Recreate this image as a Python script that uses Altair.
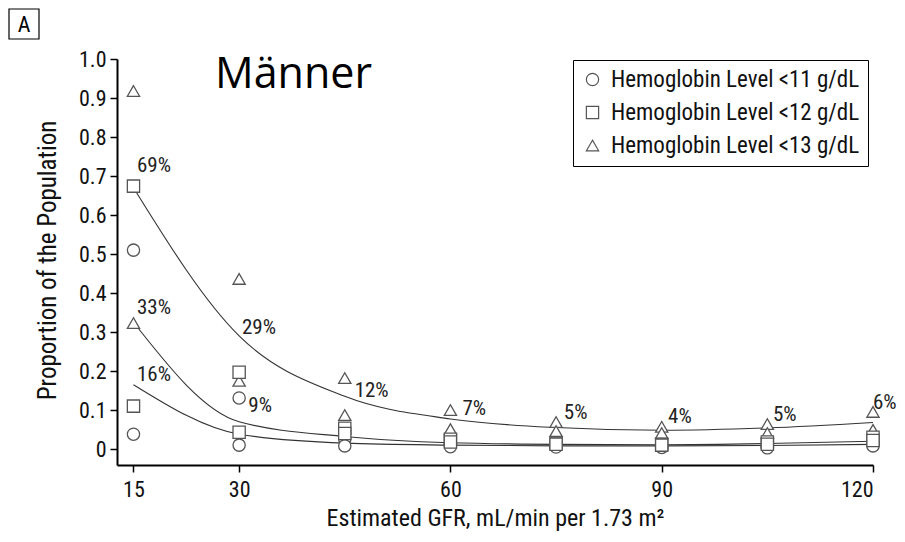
import altair as alt
import pandas as pd

# ---- data ----
gfr = [15, 30, 45, 60, 75, 90, 105, 120]

# two observations per hemoglobin threshold at each GFR level
circ_a = [0.510, 0.131, 0.025, 0.012, 0.008, 0.006, 0.008, 0.012]
circ_b = [0.038, 0.010, 0.008, 0.006, 0.005, 0.004, 0.003, 0.008]
tri_a = [0.918, 0.436, 0.182, 0.100, 0.069, 0.057, 0.064, 0.095]
tri_b = [0.323, 0.175, 0.087, 0.051, 0.046, 0.041, 0.041, 0.049]
sq_a = [0.674, 0.197, 0.053, 0.025, 0.015, 0.012, 0.018, 0.030]
sq_b = [0.110, 0.043, 0.040, 0.018, 0.012, 0.010, 0.012, 0.022]

# fitted curves
curve_top = [0.670, 0.290, 0.135, 0.077, 0.055, 0.048, 0.054, 0.068]
curve_mid = [0.325, 0.070, 0.032, 0.016, 0.012, 0.011, 0.014, 0.020]
curve_bot = [0.165, 0.038, 0.015, 0.010, 0.008, 0.008, 0.009, 0.012]

# percentage annotations
lab_txt = ["69%", "33%", "16%", "29%", "9%", "12%", "7%", "5%", "4%", "5%", "6%"]
lab_x = [15.5, 15.5, 15.5, 30.4, 31.3, 46.4, 61.7, 76.1, 90.9, 105.8, 120.0]
lab_y = [0.726, 0.362, 0.190, 0.310, 0.110, 0.149, 0.103, 0.092, 0.082, 0.087, 0.118]

cats = ["Hemoglobin Level <11 g/dL", "Hemoglobin Level <12 g/dL", "Hemoglobin Level <13 g/dL"]
y_ticks = [0, 0.1, 0.2, 0.3, 0.4, 0.5, 0.6, 0.7, 0.8, 0.9, 1.0]
x_ticks = [15, 30, 60, 90, 120]

# ---- tables ----
rows = []
for vals, c in [(circ_a, cats[0]), (circ_b, cats[0]),
                (tri_a, cats[2]), (tri_b, cats[2]),
                (sq_a, cats[1]), (sq_b, cats[1])]:
    for g, v in zip(gfr, vals):
        rows.append({"gfr": g, "prop": v, "level": c})
pts = pd.DataFrame(rows)

crows = []
for name, vals in [("top", curve_top), ("mid", curve_mid), ("bot", curve_bot)]:
    for g, v in zip(gfr, vals):
        crows.append({"gfr": g, "prop": v, "curve": name})
curves = pd.DataFrame(crows)

labs = pd.DataFrame({"gfr": lab_x, "prop": lab_y, "txt": lab_txt})

FONT = "Roboto Condensed, Liberation Sans Narrow, Roboto, sans-serif"

xscale = alt.Scale(domain=[12.66, 120], nice=False, zero=False)
yscale = alt.Scale(domain=[-0.041, 1.0], nice=False, zero=False)
shape_scale = alt.Scale(domain=cats, range=["circle", "square", "triangle-up"])

xenc = alt.X("gfr:Q", scale=xscale,
             axis=alt.Axis(values=x_ticks, title="Estimated GFR, mL/min per 1.73 m²",
                           titleY=53, titleBaseline="middle", labelPadding=7,
                           titleFontSize=24))
yenc = alt.Y("prop:Q", scale=yscale,
             axis=alt.Axis(values=y_ticks, title="Proportion of the Population",
                           labelExpr="datum.value == 0 ? '0' : format(datum.value, '.1f')",
                           titleX=-70, titleY=201, titleBaseline="middle", labelPadding=4,
                           titleFontSize=25))

legend = alt.Legend(title=None, orient="none", legendX=456, legendY=1,
                    strokeColor="black", padding=8, labelFontSize=23,
                    labelFont=FONT, labelColor="#111111", labelLimit=400,
                    symbolSize=150, symbolStrokeColor="#555555", symbolFillColor="white",
                    symbolStrokeWidth=1.2, symbolOpacity=1,
                    rowPadding=9, labelOffset=7, fillColor="white")

lines = alt.Chart(curves).mark_line(color="#333333", strokeWidth=1.1, interpolate="monotone").encode(
    x=xenc, y=yenc, detail="curve:N"
)

# outline-only layer that carries the legend (invisible on the plot)
legend_layer = alt.Chart(pts).mark_point(filled=False, color="#555555", strokeWidth=1.3,
                                         size=150, opacity=0).encode(
    x=alt.X("gfr:Q", scale=xscale),
    y=alt.Y("prop:Q", scale=yscale),
    shape=alt.Shape("level:N", scale=shape_scale, legend=legend),
)

points = alt.Chart(pts).mark_point(filled=False, color="#555555", fill="white", fillOpacity=1,
                                   strokeWidth=1.3, size=150, opacity=1).encode(
    x=alt.X("gfr:Q", scale=xscale),
    y=alt.Y("prop:Q", scale=yscale),
    shape=alt.Shape("level:N", scale=shape_scale, legend=legend),
)

texts = alt.Chart(labs).mark_text(align="left", baseline="middle", font=FONT,
                                  fontSize=21, color="#222222").encode(
    x=alt.X("gfr:Q", scale=xscale), y=alt.Y("prop:Q", scale=yscale), text="txt:N"
)

title_txt = alt.Chart(pd.DataFrame({"t": ["Männer"]})).mark_text(
    align="left", baseline="alphabetic", font="Open Sans", fontSize=43, color="black"
).encode(x=alt.value(98), y=alt.value(29), text="t:N")

abox = alt.Chart(pd.DataFrame({"t": ["A"]})).mark_rect(
    fill="white", stroke="black", strokeWidth=1.2
).encode(x=alt.value(-108), x2=alt.value(-78), y=alt.value(-50), y2=alt.value(-20))

atxt = alt.Chart(pd.DataFrame({"t": ["A"]})).mark_text(
    align="center", baseline="middle", font=FONT, fontSize=22, color="black"
).encode(x=alt.value(-93), y=alt.value(-34), text="t:N")

chart = alt.layer(legend_layer, lines, points, texts, title_txt, abox, atxt).properties(
    width=756, height=406,
    autosize=alt.AutoSizeParams(type="none"),
    padding={"left": 109, "top": 51, "right": 24, "bottom": 68},
).configure_view(stroke=None).configure_axis(
    grid=False, domainColor="black", domainWidth=2, tickColor="black", tickWidth=1.5,
    tickSize=7, labelFont=FONT, labelFontSize=22, labelColor="#111111",
    titleFont=FONT, titleFontSize=23, titleFontWeight="normal", titleColor="#111111",
)

chart.save("out.html", embed_options={"renderer": "svg", "actions": False})
